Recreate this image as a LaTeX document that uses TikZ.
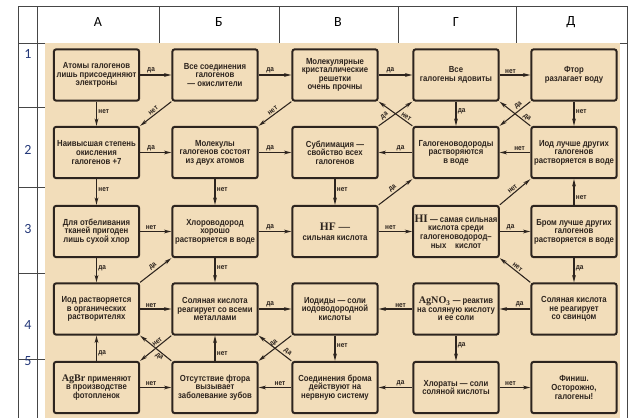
\documentclass[tikz,border=0pt]{standalone}
\usepackage{fontspec}
\usetikzlibrary{arrows.meta}
\setmainfont{Carlito}
\newfontfamily\boxfont{Liberation Sans}[FakeStretch=0.88]
\newfontfamily\chemfont{Liberation Serif}
\definecolor{paper}{RGB}{242,221,186}
\definecolor{ink}{RGB}{45,36,30}
\definecolor{rulegray}{RGB}{70,70,70}
\definecolor{rownum}{RGB}{35,55,120}
\newcommand{\bigchem}[1]{{\chemfont\bfseries\fontsize{8.6}{8.6}\selectfont #1}}
\newcommand{\smallchem}[1]{{\chemfont\fontsize{7.6}{7.6}\selectfont #1}}

\begin{document}
\begin{tikzpicture}[x=0.75pt,y=-0.75pt,
  qbox/.style={draw=ink,line width=1.5pt,rounded corners=1.8pt,fill=paper,minimum width=64pt,minimum height=38.5pt,inner sep=1pt,align=center,text=ink,font=\boxfont\bfseries\fontsize{6.6}{6.4}\selectfont},
  qarrow/.style={draw=ink,line width=0.8pt,-{Stealth[length=5.5pt,width=2.8pt,inset=1.6pt]}},
  qtag/.style={text=ink,inner sep=1pt,font=\boxfont\bfseries\fontsize{5.5}{5.5}\selectfont},
  tableline/.style={draw=rulegray,line width=0.75pt},
  colhead/.style={inner sep=0pt,font=\fontsize{10.5}{12}\selectfont},
  rowhead/.style={inner sep=0pt,text=rownum,font=\fontsize{10.5}{12}\selectfont}]
\path[use as bounding box] (0,0) rectangle (640,418);
% spreadsheet frame
\draw[tableline] (18,6) -- (627,6);
\draw[tableline] (18,43) -- (627,43);
\draw[tableline] (18,6) -- (18,418);
\draw[tableline] (37,6) -- (37,418);
\draw[tableline] (627,6) -- (627,418);
\foreach \x in {159,279,398,516} \draw[tableline] (\x,6) -- (\x,43);
\foreach \y in {107,187,273,359} \draw[tableline] (18,\y) -- (45,\y);
\fill[paper] (45,43) rectangle (620,418);
\node[colhead] (hA) at (98,22) {А};
\node[colhead] (hB) at (219,22) {Б};
\node[colhead] (hV) at (338,22) {В};
\node[colhead] (hG) at (456,22) {Г};
\node[colhead] (hD) at (571,22) {Д};
\node[rowhead] (r1) at (28,54) {1};
\node[rowhead] (r2) at (28,150) {2};
\node[rowhead] (r3) at (28,229) {3};
\node[rowhead] (r4) at (28,325) {4};
\node[rowhead] (r5) at (28,361) {5};
% statements
\node[qbox] (a1) at (96.5,75) {Атомы галогенов\\лишь присоединяют\\электроны};
\node[qbox] (b1) at (215,75) {Все соединения\\галогенов\\— окислители};
\node[qbox] (v1) at (335,75) {Молекулярные\\кристаллические\\решетки\\очень прочны};
\node[qbox] (g1) at (456,75) {Все\\галогены ядовиты};
\node[qbox] (d1) at (574,75) {Фтор\\разлагает воду};
\node[qbox] (a2) at (96.5,152.5) {Наивысшая степень\\окисления\\галогенов +7};
\node[qbox] (b2) at (215,152.5) {Молекулы\\галогенов состоят\\из двух атомов};
\node[qbox] (v2) at (335,152.5) {Сублимация —\\свойство всех\\галогенов};
\node[qbox] (g2) at (456,152.5) {Галогеноводороды\\растворяются\\в воде};
\node[qbox] (d2) at (574,152.5) {Иод лучше других\\галогенов\\растворяется в воде};
\node[qbox] (a3) at (96.5,231.5) {Для отбеливания\\тканей пригоден\\лишь сухой хлор};
\node[qbox] (b3) at (215,231.5) {Хлороводород\\хорошо\\растворяется в воде};
\node[qbox] (v3) at (335,231.5) {\bigchem{HF —}\\[1pt]сильная кислота};
\node[qbox] (g3) at (456,231.5) {\bigchem{HI} — самая сильная\\кислота среди\\галогеноводород–\\ных\quad кислот};
\node[qbox] (d3) at (574,231.5) {Бром лучше других\\галогенов\\растворяется в воде};
\node[qbox] (a4) at (96.5,309) {Иод растворяется\\в органических\\растворителях};
\node[qbox] (b4) at (215,309) {Соляная кислота\\реагирует со всеми\\металлами};
\node[qbox] (v4) at (335,309) {Иодиды — соли\\иодоводородной\\кислоты};
\node[qbox] (g4) at (456,309) {\smallchem{AgNO\textsubscript{3}} — реактив\\на соляную кислоту\\и ее соли};
\node[qbox] (d4) at (574,309) {Соляная кислота\\не реагирует\\со свинцом};
\node[qbox] (a5) at (96.5,387.5) {\smallchem{AgBr} применяют\\в производстве\\фотопленок};
\node[qbox] (b5) at (215,387.5) {Отсутствие фтора\\вызывает\\заболевание зубов};
\node[qbox] (v5) at (335,387.5) {Соединения брома\\действуют на\\нервную систему};
\node[qbox] (g5) at (456,387.5) {Хлораты — соли\\соляной кислоты};
\node[qbox] (d5) at (574,387.5) {Финиш.\\Осторожно,\\галогены!};
% row 1
\draw[qarrow] (a1) -- node[qtag,above,pos=.35] {да} (b1);
\draw[qarrow] (b1) -- node[qtag,above,pos=.35] {да} (v1);
\draw[qarrow] (v1) -- node[qtag,above,pos=.35] {да} (g1);
\draw[qarrow] (g1) -- node[qtag,above,pos=.35] {нет} (d1);
\draw[qarrow] (a1) -- node[qtag,right,pos=.4] {нет} (a2);
\draw[qarrow] (g1) -- node[qtag,right,pos=.4] {да} (g2);
\draw[qarrow] (d1) -- node[qtag,right,pos=.4] {нет} (d2);
\draw[qarrow] (b1.south west) -- node[qtag,above,sloped,pos=.5] {нет} (a2.north east);
\draw[qarrow] (v1.south west) -- node[qtag,above,sloped,pos=.5] {нет} (b2.north east);
\draw[qarrow] (v2.north east) -- node[qtag,above,sloped,pos=.25] {да} (g1.south west);
\draw[qarrow] (g2.north west) -- node[qtag,above,sloped,pos=.25] {нет} (v1.south east);
\draw[qarrow] (d1.south west) -- node[qtag,above,sloped,pos=.3] {да} (g2.north east);
\draw[qarrow] (d2.north west) -- node[qtag,above,sloped,pos=.2] {да} (g1.south east);
% row 2
\draw[qarrow] (a2) -- node[qtag,above,pos=.35] {да} (b2);
\draw[qarrow] (b2) -- node[qtag,above,pos=.35] {да} (v2);
\draw[qarrow] (g2) -- node[qtag,above,pos=.35] {да} (v2);
\draw[qarrow] (d2) -- node[qtag,above,pos=.35] {нет} (g2);
\draw[qarrow] (a2) -- node[qtag,right,pos=.4] {нет} (a3);
\draw[qarrow] (b2) -- node[qtag,right,pos=.4] {нет} (b3);
\draw[qarrow] (v2) -- node[qtag,right,pos=.4] {нет} (v3);
\draw[qarrow] (d3) -- node[qtag,right,pos=.3] {нет} (d2);
\draw[qarrow] (v3.north east) -- node[qtag,above,sloped,pos=.5] {да} (g2.south west);
\draw[qarrow] (g3.north east) -- node[qtag,above,sloped,pos=.5] {нет} (d2.south west);
% row 3
\draw[qarrow] (a3) -- node[qtag,above,pos=.35] {нет} (b3);
\draw[qarrow] (b3) -- node[qtag,above,pos=.35] {да} (v3);
\draw[qarrow] (v3) -- node[qtag,above,pos=.35] {нет} (g3);
\draw[qarrow] (g3) -- node[qtag,above,pos=.35] {да} (d3);
\draw[qarrow] (a3) -- node[qtag,right,pos=.4] {да} (a4);
\draw[qarrow] (b3) -- node[qtag,right,pos=.4] {нет} (b4);
\draw[qarrow] (d3) -- node[qtag,right,pos=.4] {да} (d4);
\draw[qarrow] (a4.north east) -- node[qtag,above,sloped,pos=.5] {да} (b3.south west);
\draw[qarrow] (d4.north west) -- node[qtag,above,sloped,pos=.5] {нет} (g3.south east);
% row 4
\draw[qarrow] (a4) -- node[qtag,above,pos=.35] {нет} (b4);
\draw[qarrow] (b4) -- node[qtag,above,pos=.35] {да} (v4);
\draw[qarrow] (g4) -- node[qtag,above,pos=.35] {нет} (v4);
\draw[qarrow] (d4) -- node[qtag,above,pos=.35] {да} (g4);
\draw[qarrow] (a5) -- node[qtag,right,pos=.3] {да} (a4);
\draw[qarrow] (b5) -- node[qtag,right,pos=.3] {нет} (b4);
\draw[qarrow] (v4) -- node[qtag,right,pos=.4] {нет} (v5);
\draw[qarrow] (g4) -- node[qtag,right,pos=.4] {да} (g5);
\draw[qarrow] (b4.south west) -- node[qtag,above,sloped,pos=.37] {нет} (a5.north east);
\draw[qarrow] (b5.north west) -- node[qtag,below,sloped,pos=.3] {да} (a4.south east);
\draw[qarrow] (v4.south west) -- node[qtag,above,sloped,pos=.45] {да} (b5.north east);
\draw[qarrow] (v5.north west) -- node[qtag,above,sloped,pos=.2] {да} (b4.south east);
% row 5
\draw[qarrow] (a5) -- node[qtag,above,pos=.35] {нет} (b5);
\draw[qarrow] (v5) -- node[qtag,above,pos=.35] {нет} (b5);
\draw[qarrow] (g5) -- node[qtag,above,pos=.35] {да} (v5);
\draw[qarrow] (g5) -- node[qtag,above,pos=.35] {нет} (d5);
\end{tikzpicture}
\end{document}
